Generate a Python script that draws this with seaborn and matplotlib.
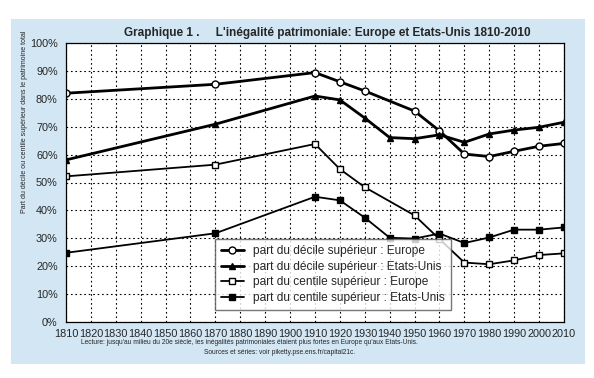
import numpy as np
import pandas as pd
import matplotlib
matplotlib.use("Agg")
import matplotlib.pyplot as plt
from matplotlib.patches import Rectangle
import seaborn as sns

# data (share of total wealth, %)
years = [1810, 1870, 1910, 1920, 1930, 1940, 1950, 1960, 1970, 1980, 1990, 2000, 2010]
decile_europe = [82.0, 85.2, 89.4, 86.1, 82.8, None, 75.6, 68.5, 60.2, 59.3, 61.2, 63.0, 64.0]
decile_us = [58.1, 70.9, 81.0, 79.6, 73.1, 66.1, 65.7, 67.1, 64.4, 67.4, 68.8, 69.8, 71.6]
centile_europe = [52.2, 56.4, 63.8, 54.8, 48.3, None, 38.2, 29.7, 21.3, 20.7, 22.1, 24.0, 24.6]
centile_us = [24.8, 31.8, 44.9, 43.6, 37.4, 30.2, 29.9, 31.7, 28.3, 30.3, 33.1, 33.1, 33.9]

labels = ["part du décile supérieur : Europe",
          "part du décile supérieur : Etats-Unis",
          "part du centile supérieur : Europe",
          "part du centile supérieur : Etats-Unis"]

sns.set_style("white")
plt.rcParams['font.family'] = ['Liberation Sans', 'DejaVu Sans']

fig = plt.figure(figsize=(5.94, 3.78), dpi=100)
# light blue panel behind everything
fig.patches.append(Rectangle((0.019, 0.037), 0.966, 0.913, transform=fig.transFigure,
                             facecolor="#d2e6f4", edgecolor="none", zorder=-10))
ax = fig.add_axes([66/594, (378-322)/378, 498/594, 279/378])
ax.set_facecolor("white")

styles = [
    (decile_europe, "o", "white", 2.0),
    (decile_us, "^", "black", 2.0),
    (centile_europe, "s", "white", 1.3),
    (centile_us, "s", "black", 1.3),
]
for (vals, mk, mfc, lw), lab in zip(styles, labels):
    df = pd.DataFrame({"year": years, "share": vals}).dropna()
    sns.lineplot(data=df, x="year", y="share", ax=ax, color="black", lw=lw,
                 marker=mk, markersize=5, markerfacecolor=mfc,
                 markeredgecolor="black", markeredgewidth=1.0, label=lab)

ax.set_xlim(1810, 2010)
ax.set_ylim(0, 100)
ax.set_xticks(np.arange(1810, 2011, 10))
ax.set_yticks(np.arange(0, 101, 10))
ax.set_yticklabels([f"{v}%" for v in range(0, 101, 10)])
ax.tick_params(axis="both", labelsize=7.8, length=4, width=0.8, color="black", pad=2)
ax.tick_params(axis="x", direction="inout", length=6)
ax.grid(True, color="black", linestyle=(0, (1.5, 2.5)), linewidth=0.8)
for s in ax.spines.values():
    s.set_color("black")
    s.set_linewidth(0.9)
ax.set_xlabel("")
ax.set_ylabel("")

fig.text(25/594, 1 - 122/378,
         "Part du décile ou centile supérieur dans le patrimoine total",
         rotation=90, ha="center", va="center", fontsize=5.0)

leg = ax.legend(loc="lower left", bbox_to_anchor=(0.287, 0.022), fontsize=8.6,
                frameon=True, fancybox=False, edgecolor="#555555",
                handlelength=1.9, borderpad=0.5, labelspacing=0.3)
leg.get_frame().set_linewidth(1.0)

fig.text(327/594, 0.913, "Graphique 1 .     L'inégalité patrimoniale: Europe et Etats-Unis 1810-2010",
         ha="center", va="center", fontsize=8.5, fontweight="bold")
fig.text(249/594, 1 - 343/378, "Lecture: jusqu'au milieu du 20e siècle, les inégalités patrimoniales étaient plus fortes en Europe qu'aux Etats-Unis.",
         ha="center", va="center", fontsize=4.75)
fig.text(280/594, 1 - 353/378, "Sources et séries: voir piketty.pse.ens.fr/capital21c.",
         ha="center", va="center", fontsize=4.75)

fig.savefig("out.png", dpi=100)
